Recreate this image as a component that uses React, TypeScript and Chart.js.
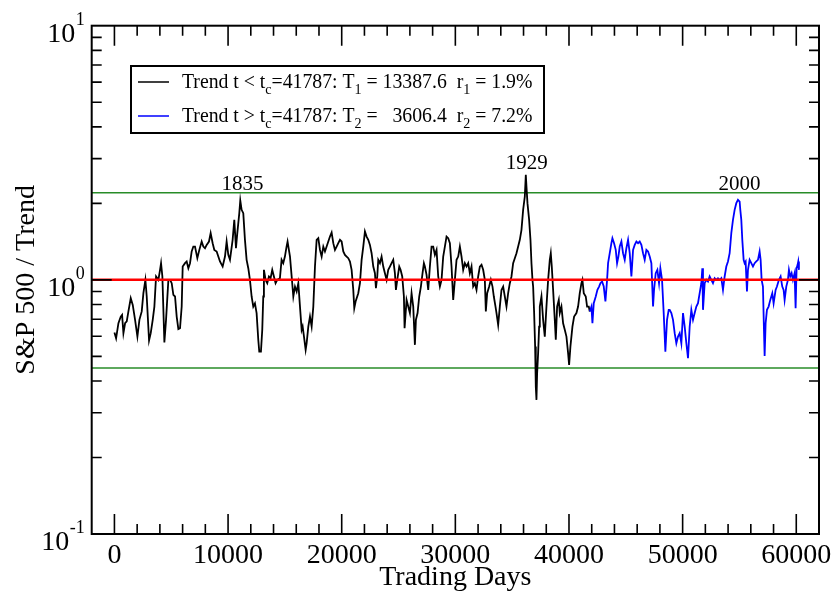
import React, { useEffect, useRef } from 'react';
import { Chart, registerables } from 'chart.js';

Chart.register(...registerables);

// ---- data ----
const blackDays = [
  0, 147, 352, 557, 674, 791, 938, 1084, 1231, 1436, 1612, 1817, 2022, 2198, 2403, 2549, 2725, 2842, 3047, 3194,
  3370, 3516, 3663, 3868, 4014, 4102, 4219, 4395, 4542, 4747, 4893, 5040, 5186, 5333, 5479, 5626, 5772, 5919, 6007, 6212,
  6358, 6505, 6651, 6798, 6944, 7091, 7296, 7472, 7677, 7823, 7970, 8116, 8321, 8468, 8644, 8790, 8995, 9142, 9288, 9523,
  9728, 9874, 10021, 10167, 10402, 10548, 10695, 10812, 10988, 11075, 11193, 11339, 11486, 11632, 11779, 11925, 12072, 12218, 12365, 12511,
  12658, 12746, 12892, 13009, 13097, 13156, 13302, 13449, 13595, 13742, 13888, 14035, 14181, 14328, 14562, 14709, 14855, 15002, 15148, 15236,
  15353, 15449, 15596, 15742, 15889, 16035, 16182, 16328, 16475, 16563, 16680, 16827, 16915, 17061, 17208, 17354, 17501, 17647, 17794, 17940,
  18087, 18233, 18380, 18527, 18673, 18820, 18966, 19113, 19259, 19406, 19552, 19699, 19846, 19992, 20139, 20285, 20432, 20578, 20725, 20871,
  21018, 21106, 21223, 21458, 21604, 21751, 21897, 22044, 22190, 22337, 22483, 22630, 22777, 22923, 23011, 23128, 23216, 23363, 23509, 23656,
  23802, 23949, 24095, 24242, 24389, 24535, 24682, 24770, 24887, 25063, 25180, 25326, 25473, 25532, 25708, 25854, 26001, 26147, 26294, 26440,
  26528, 26675, 26821, 26968, 27114, 27232, 27320, 27466, 27613, 27759, 27906, 28052, 28199, 28345, 28492, 28639, 28785, 28932, 29078, 29225,
  29371, 29518, 29664, 29811, 29957, 30104, 30251, 30397, 30544, 30690, 30837, 30983, 31130, 31276, 31423, 31569, 31716, 31862, 32009, 32155,
  32302, 32448, 32595, 32683, 32800, 32976, 33122, 33269, 33386, 33533, 33621, 33767, 33914, 34060, 34207, 34353, 34500, 34646, 34793, 34939,
  35086, 35233, 35379, 35526, 35672, 35819, 35965, 36112, 36200, 36258, 36346, 36493, 36610, 36698, 36786, 36845, 36933, 37020, 37079, 37138,
  37196, 37284, 37372, 37431, 37577, 37724, 37870, 38017, 38164, 38310, 38398, 38486, 38603, 38750, 38838, 38955, 39102, 39189, 39336, 39483,
  39629, 39776, 39922, 40010, 40127, 40303, 40450, 40655, 40801, 40948, 41095, 41182, 41300, 41476, 41593, 41740, 41828,
];
const blackRatio = [
  0.621, 0.589, 0.675, 0.717, 0.728, 0.617, 0.675, 0.686, 0.751, 0.847, 0.797, 0.696, 0.598, 0.696, 0.751, 0.886, 1.0, 0.86, 0.577, 0.617,
  0.696, 0.785, 1.031, 1.0, 1.095, 1.163, 1.031, 0.567, 0.696, 1.0, 1.0, 0.97, 0.873, 0.86, 0.717, 0.64, 0.645, 0.785, 1.128, 1.163,
  1.181, 1.111, 1.163, 1.293, 1.352, 1.352, 1.217, 1.312, 1.415, 1.352, 1.332, 1.373, 1.415, 1.526, 1.394, 1.312, 1.293, 1.235, 1.181, 1.128,
  1.235, 1.415, 1.254, 1.199, 1.437, 1.722, 1.332, 1.526, 1.829, 2.052, 1.886, 1.829, 1.437, 1.199, 1.111, 1.0, 0.86, 0.785, 0.809, 0.74,
  0.581, 0.522, 0.522, 0.636, 0.86, 1.095, 1.0, 0.97, 1.031, 1.015, 1.095, 1.031, 0.97, 1.0, 1.015, 1.199, 1.163, 1.235, 1.352, 1.415,
  1.312, 1.235, 1.031, 0.86, 0.941, 0.9, 0.97, 0.785, 0.636, 0.655, 0.598, 0.53, 0.563, 0.655, 0.717, 0.655, 0.785, 1.128, 1.437, 1.458,
  1.312, 1.235, 1.352, 1.293, 1.352, 1.415, 1.48, 1.536, 1.394, 1.312, 1.352, 1.394, 1.437, 1.415, 1.293, 1.254, 1.235, 1.217, 1.181, 1.095,
  0.913, 0.774, 0.822, 0.886, 0.97, 1.199, 1.352, 1.549, 1.48, 1.437, 1.373, 1.273, 1.128, 1.062, 0.927, 1.031, 1.199, 1.163, 1.235, 1.128,
  1.062, 1.0, 1.095, 1.128, 1.163, 1.199, 1.062, 0.913, 1.0, 1.128, 1.095, 1.031, 0.86, 0.645, 0.834, 0.785, 0.74, 0.886, 0.785, 0.555,
  0.696, 0.74, 0.86, 0.941, 1.062, 1.163, 1.128, 1.046, 0.913, 1.128, 1.352, 1.352, 1.254, 1.312, 1.031, 0.941, 1.0, 1.235, 1.352, 1.48,
  1.458, 1.394, 1.128, 0.834, 1.0, 1.199, 1.235, 1.352, 1.235, 1.095, 1.163, 1.128, 1.163, 1.062, 1.128, 0.941, 0.97, 0.913, 1.031, 1.128,
  1.146, 1.095, 1.0, 0.751, 0.886, 0.941, 1.0, 0.941, 0.86, 0.785, 0.74, 0.665, 0.785, 0.913, 0.941, 0.86, 0.785, 0.886, 0.97, 1.031,
  1.163, 1.217, 1.273, 1.352, 1.437, 1.573, 1.886, 2.128, 2.59, 2.329, 2.003, 1.722, 1.437, 1.163, 1.0, 0.941, 0.74, 0.547, 0.38, 0.337,
  0.429, 0.515, 0.655, 0.785, 0.86, 0.696, 0.598, 0.785, 1.0, 1.199, 1.273, 1.128, 0.913, 0.696, 0.581, 0.785, 0.834, 0.74, 0.785, 0.675,
  0.636, 0.598, 0.515, 0.463, 0.547, 0.655, 0.717, 0.74, 0.785, 0.886, 0.97, 1.0, 0.886, 0.86, 0.785, 0.785, 0.751,
];
const blueDays = [
  41828, 41974, 42062, 42179, 42355, 42502, 42648, 42766, 42912, 43059, 43205, 43352, 43440, 43586, 43733, 43821, 43967, 44114, 44231, 44348,
  44465, 44612, 44758, 44905, 45051, 45198, 45345, 45491, 45638, 45784, 45931, 46077, 46224, 46370, 46517, 46663, 46810, 46957, 47103, 47250,
  47396, 47484, 47631, 47777, 47924, 48041, 48188, 48334, 48481, 48627, 48774, 48861, 49008, 49154, 49301, 49447, 49594, 49740, 49887, 50033,
  50180, 50327, 50473, 50620, 50766, 50913, 51059, 51206, 51352, 51499, 51645, 51733, 51792, 51939, 52085, 52232, 52378, 52525, 52671, 52818,
  52964, 53111, 53258, 53404, 53551, 53697, 53844, 53990, 54137, 54283, 54430, 54576, 54723, 54870, 55016, 55075, 55163, 55251, 55368, 55456,
  55544, 55602, 55661, 55749, 55895, 56042, 56189, 56335, 56482, 56628, 56775, 56863, 56951, 57068, 57156, 57215, 57303, 57420, 57567, 57713,
  57889, 58006, 58182, 58299, 58475, 58622, 58768, 58886, 58974, 59120, 59267, 59355, 59472, 59589, 59706, 59853, 59941, 60029, 60117, 60175,
  60234,
];
const blueRatio = [
  0.751, 0.785, 0.675, 0.809, 0.86, 0.913, 0.941, 0.97, 0.985, 0.941, 0.822, 1.0, 1.163, 1.273, 1.394, 1.458, 1.394, 1.312, 1.163, 1.235,
  1.352, 1.415, 1.273, 1.199, 1.332, 1.437, 1.273, 1.031, 1.312, 1.373, 1.415, 1.394, 1.415, 1.373, 1.273, 1.199, 1.312, 1.293, 1.235, 1.163,
  0.785, 0.913, 1.062, 1.095, 0.97, 1.111, 1.0, 0.74, 0.522, 0.696, 0.762, 0.762, 0.74, 0.696, 0.617, 0.563, 0.598, 0.617, 0.563, 0.74,
  0.655, 0.563, 0.492, 0.655, 0.762, 0.696, 0.74, 0.785, 0.809, 0.886, 0.97, 1.111, 0.762, 0.97, 1.0, 0.985, 1.031, 1.0, 0.97, 1.015,
  1.0, 1.015, 1.0, 1.015, 0.913, 1.031, 1.128, 1.181, 1.273, 1.526, 1.722, 1.886, 2.003, 2.065, 2.033, 1.886, 1.722, 1.437, 1.199, 1.163,
  1.181, 1.031, 0.9, 1.095, 1.199, 1.163, 1.128, 1.163, 1.181, 1.199, 1.293, 1.199, 1.0, 0.941, 0.636, 0.502, 0.675, 0.762, 0.785, 0.834,
  0.886, 0.809, 0.913, 0.941, 1.0, 1.031, 0.941, 0.913, 0.834, 0.941, 1.0, 1.095, 1.031, 1.062, 1.0, 1.062, 0.774, 1.111, 1.146, 1.181,
  1.095,
];

const trendLevel = 1.0;
const upperBand = 2.2;
const lowerBand = 0.45;

const xMin = -2000;
const xMax = 62000;
const xMajorStep = 10000;
const xMinorStep = 2000;
const xTickLabels = ['0', '10000', '20000', '30000', '40000', '50000', '60000'];
const xTickValues = [0, 10000, 20000, 30000, 40000, 50000, 60000];
const yTickValues = [0.1, 1, 10];
const yTickExponents = ['-1', '0', '1'];

const eventLabels = ['1835', '1929', '2000'];
const eventDays = [11270, 36290, 55010];
const eventLevels = [2.26, 2.73, 2.26];

const legendRows = [
  { color: '#000000', parts: [['Trend t < t', 0], ['c', 1], ['=41787: T', 0], ['1', 1], [' = ', 0], ['13387.6', 2], ['  r', 3], ['1', 1], [' = 1.9%', 0]] },
  { color: '#0000ff', parts: [['Trend t > t', 0], ['c', 1], ['=41787: T', 0], ['2', 1], [' = ', 0], ['3606.4', 2], ['  r', 3], ['2', 1], [' = 7.2%', 0]] },
];

const FONT = "'Liberation Serif', 'Times New Roman', serif";
const LEGEND_SX = 0.94;

const decorPlugin = {
  id: 'decor',
  afterDatasetsDraw(chart: any) {
    const { ctx, chartArea: a, scales } = chart;
    const x = scales.x;
    const y = scales.y;
    ctx.save();
    ctx.strokeStyle = '#000';
    ctx.fillStyle = '#000';

    // ticks
    ctx.lineWidth = 1.6;
    ctx.beginPath();
    for (let v = xMin; v <= xMax; v += xMinorStep) {
      if (v === xMin || v === xMax) continue;
      const px = x.getPixelForValue(v);
      const len = v % xMajorStep === 0 ? 20 : 10;
      ctx.moveTo(px, a.bottom);
      ctx.lineTo(px, a.bottom - len);
      ctx.moveTo(px, a.top);
      ctx.lineTo(px, a.top + len);
    }
    const decades = [0.1, 1];
    for (const d of decades) {
      for (let m = 1; m <= 9; m++) {
        const v = d * m;
        if (v === 0.1) continue;
        const py = y.getPixelForValue(v);
        const len = m === 1 ? 20 : 10;
        ctx.moveTo(a.left, py);
        ctx.lineTo(a.left + len, py);
        ctx.moveTo(a.right, py);
        ctx.lineTo(a.right - len, py);
      }
    }
    ctx.stroke();

    // frame
    ctx.lineWidth = 2;
    ctx.strokeRect(a.left, a.top, a.right - a.left, a.bottom - a.top);

    // x tick labels
    ctx.font = `28px ${FONT}`;
    ctx.textAlign = 'center';
    ctx.textBaseline = 'alphabetic';
    xTickValues.forEach((v, i) => {
      ctx.fillText(xTickLabels[i], x.getPixelForValue(v), a.bottom + 29);
    });

    // y tick labels (10 with superscript)
    yTickValues.forEach((v, i) => {
      const py = y.getPixelForValue(v);
      ctx.textAlign = 'right';
      ctx.font = `18px ${FONT}`;
      const expRight = a.left - 7;
      ctx.fillText(yTickExponents[i], expRight, py - 1);
      const ew = ctx.measureText(yTickExponents[i]).width;
      ctx.font = `28px ${FONT}`;
      ctx.fillText('10', expRight - ew - 0.5, py + 16);
    });

    // axis titles
    ctx.font = `28px ${FONT}`;
    ctx.textAlign = 'center';
    ctx.fillText('Trading Days', (a.left + a.right) / 2, 585);
    ctx.save();
    ctx.translate(34, (a.top + a.bottom) / 2);
    ctx.rotate(-Math.PI / 2);
    ctx.fillText('S&P 500 / Trend', 0, 0);
    ctx.restore();

    // event labels
    ctx.font = `21px ${FONT}`;
    ctx.textAlign = 'center';
    eventLabels.forEach((t, i) => {
      ctx.fillText(t, x.getPixelForValue(eventDays[i]), y.getPixelForValue(eventLevels[i]));
    });

    // legend
    const bx = 131, by = 66, bw = 413, bh = 67;
    ctx.fillStyle = '#fff';
    ctx.fillRect(bx, by, bw, bh);
    ctx.fillStyle = '#000';
    ctx.lineWidth = 2;
    ctx.strokeRect(bx, by, bw, bh);
    const baselines = [88, 122];
    let numEnd = 0;
    let rStart = 0;
    const put = (txt: string, px: number, py: number, size: number) => {
      ctx.font = `${size}px ${FONT}`;
      ctx.save();
      ctx.translate(px, py);
      ctx.scale(LEGEND_SX, 1);
      ctx.textAlign = 'left';
      ctx.fillText(txt, 0, 0);
      ctx.restore();
      return ctx.measureText(txt).width * LEGEND_SX;
    };
    legendRows.forEach((row, ri) => {
      const base = baselines[ri];
      ctx.strokeStyle = row.color;
      ctx.lineWidth = 1.5;
      ctx.beginPath();
      ctx.moveTo(138, base - 6);
      ctx.lineTo(169, base - 6);
      ctx.stroke();
      let cx = 182;
      row.parts.forEach(([txt, kind]: any) => {
        if (kind === 1) {
          cx += put(txt, cx, base + 6, 15);
        } else if (kind === 2) {
          ctx.font = `21px ${FONT}`;
          const w = ctx.measureText(txt).width * LEGEND_SX;
          if (ri === 0) {
            put(txt, cx, base, 21);
            numEnd = cx + w;
            cx += w;
          } else {
            put(txt, numEnd - w, base, 21);
            cx = numEnd;
          }
        } else if (kind === 3) {
          if (ri === 0) rStart = cx; else cx = rStart;
          cx += put(txt, cx, base, 21);
        } else {
          cx += put(txt, cx, base, 21);
        }
      });
    });

    ctx.restore();
  },
};

function hline(level: number, color: string, width: number) {
  return {
    data: [{ x: xMin, y: level }, { x: xMax, y: level }],
    borderColor: color,
    borderWidth: width,
    pointRadius: 0,
    fill: false,
  };
}

export default function App() {
  const ref = useRef<HTMLCanvasElement>(null);
  useEffect(() => {
    if (!ref.current) return;
    const chart = new Chart(ref.current, {
      type: 'line',
      data: {
        datasets: [
          hline(trendLevel, '#ff0000', 2.5),
          {
            data: blueDays.map((d, i) => ({ x: d, y: blueRatio[i] })),
            borderColor: '#0000ff',
            borderWidth: 1.8,
            pointRadius: 0,
            fill: false,
          },
          {
            data: blackDays.map((d, i) => ({ x: d, y: blackRatio[i] })),
            borderColor: '#000000',
            borderWidth: 1.8,
            pointRadius: 0,
            fill: false,
          },
          hline(upperBand, 'rgb(40,140,40)', 1.6),
          hline(lowerBand, 'rgb(40,140,40)', 1.6),
        ],
      },
      options: {
        responsive: false,
        animation: false,
        events: [],
        layout: { padding: { left: 91.7, right: 15, top: 25.7, bottom: 63 } },
        plugins: { legend: { display: false }, tooltip: { enabled: false } },
        scales: {
          x: { type: 'linear', min: xMin, max: xMax, display: false },
          y: { type: 'logarithmic', min: 0.1, max: 10, display: false },
        },
      },
      plugins: [decorPlugin],
    });
    return () => chart.destroy();
  }, []);
  return (
    <div style={{ position: 'fixed', left: 0, top: 0, width: 834, height: 597, background: '#fff' }}>
      <canvas ref={ref} width={834} height={597} />
    </div>
  );
}
